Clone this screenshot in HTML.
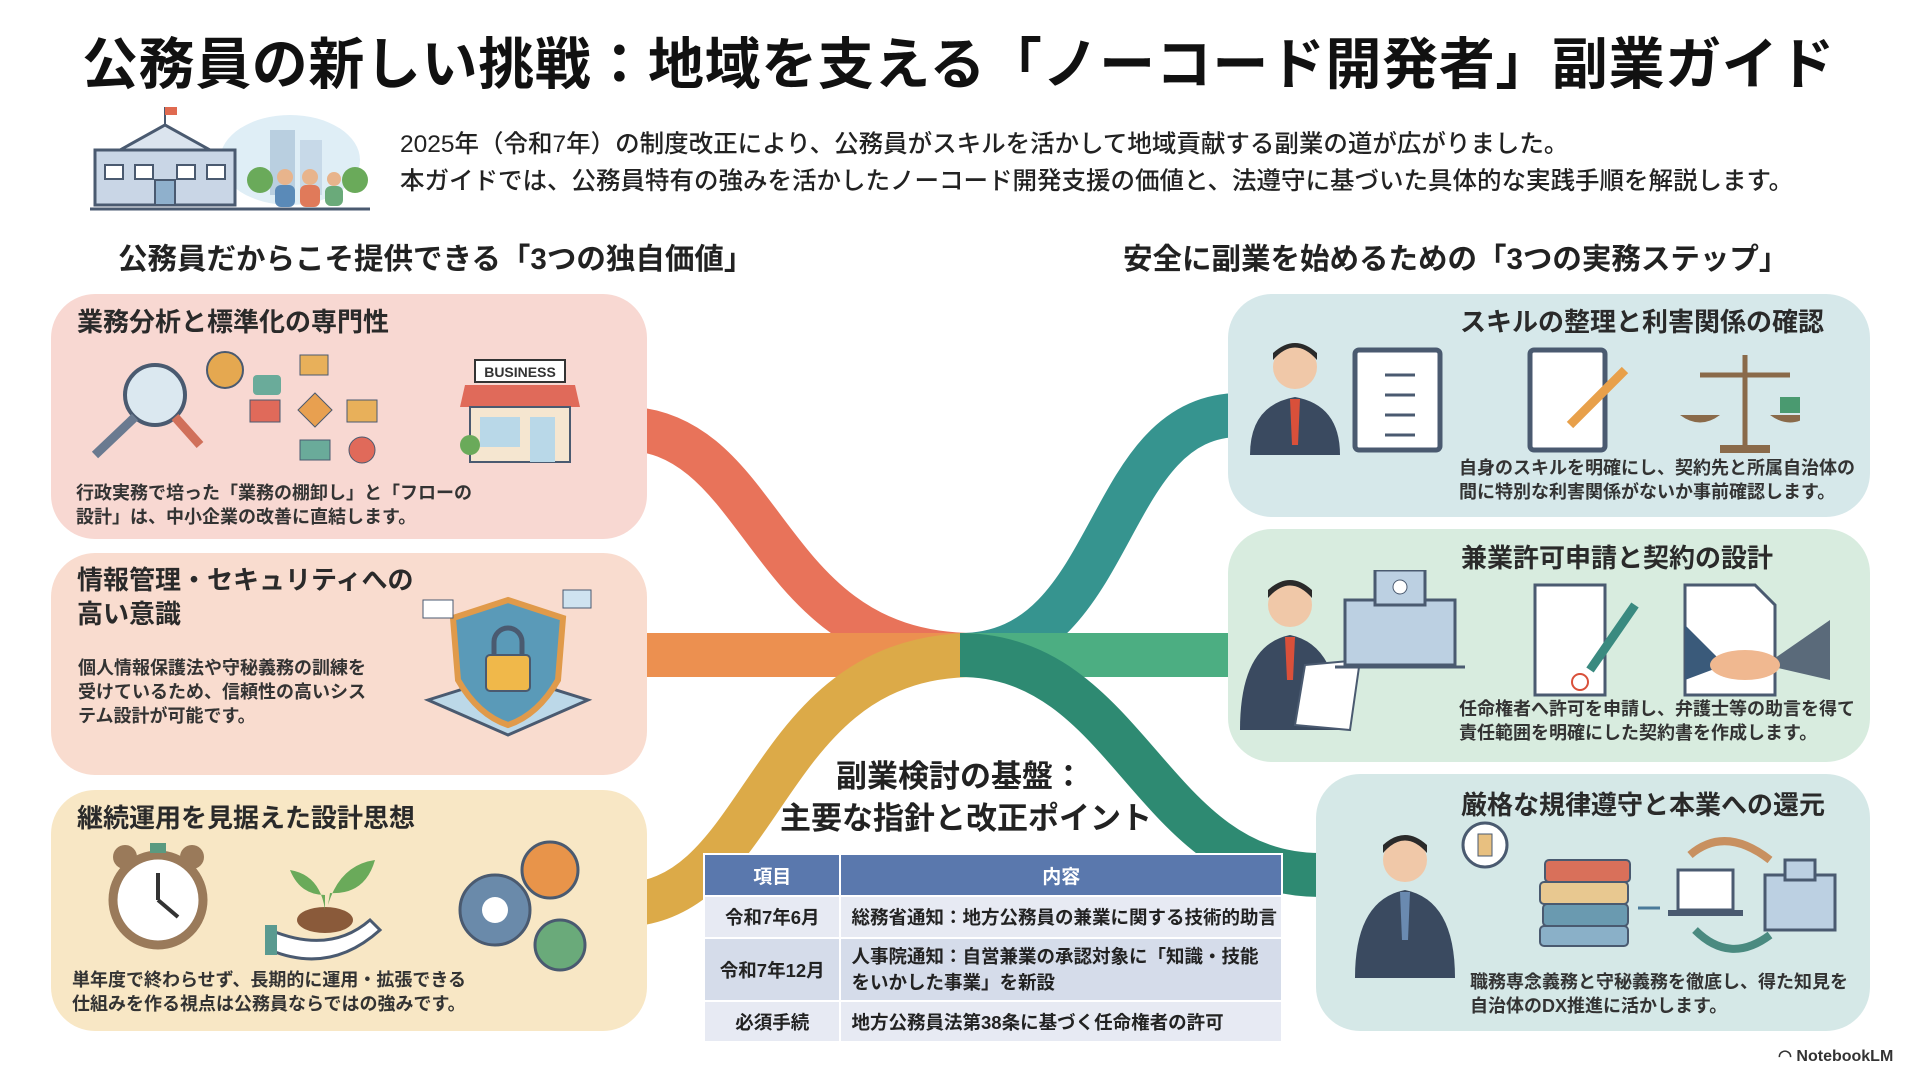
<!DOCTYPE html>
<html><head><meta charset="utf-8"><style>
*{margin:0;padding:0;box-sizing:border-box}
body{width:1920px;height:1072px;background:#fff;position:relative;overflow:hidden;font-family:"Liberation Sans","Noto Sans CJK JP",sans-serif;color:#222}
.a{position:absolute;white-space:nowrap}
.box{position:absolute;border-radius:44px}
.h{font-weight:700;font-size:26px;color:#2a2a2a}
.t{font-weight:700;font-size:18px;line-height:24px;color:#333}
table{position:absolute;left:703px;top:853px;width:580px;border-collapse:collapse;font-weight:700;font-size:18.5px;color:#222;white-space:nowrap}
td,th{border:2px solid #fff;text-align:center;padding:0 4px}
th{background:#5a78ad;color:#fff;height:42px;font-size:19px}
td.c{text-align:left;padding-left:10px}
</style></head><body>
<div class="a" style="left:82px;top:20px;font-size:56px;font-weight:700;letter-spacing:0.6px;color:#111">公務員の新しい挑戦：地域を支える「ノーコード開発者」副業ガイド</div>
<svg class="a" style="left:90px;top:105px" width="280" height="110" viewBox="0 0 280 110">
<ellipse cx="200" cy="55" rx="70" ry="45" fill="#dfeef6"/>
<rect x="180" y="25" width="25" height="65" fill="#b9cfe0"/><rect x="210" y="35" width="22" height="55" fill="#c7d9e8"/>
<rect x="5" y="45" width="140" height="55" fill="#c9d6e6" stroke="#4a5a70" stroke-width="3"/>
<polygon points="30,45 75,20 120,45" fill="#dbe4ee" stroke="#4a5a70" stroke-width="3"/>
<line x1="75" y1="20" x2="75" y2="2" stroke="#4a5a70" stroke-width="2"/><rect x="75" y="2" width="12" height="8" fill="#e06a50"/>
<rect x="15" y="60" width="18" height="14" fill="#fff" stroke="#4a5a70" stroke-width="2"/><rect x="45" y="60" width="18" height="14" fill="#fff" stroke="#4a5a70" stroke-width="2"/><rect x="87" y="60" width="18" height="14" fill="#fff" stroke="#4a5a70" stroke-width="2"/><rect x="117" y="60" width="18" height="14" fill="#fff" stroke="#4a5a70" stroke-width="2"/>
<rect x="65" y="75" width="20" height="25" fill="#8fb0cc" stroke="#4a5a70" stroke-width="2"/>
<circle cx="170" cy="75" r="13" fill="#6aaa5a"/><circle cx="265" cy="75" r="13" fill="#6aaa5a"/>
<circle cx="195" cy="72" r="8" fill="#e8b48c"/><rect x="185" y="80" width="20" height="22" rx="6" fill="#5a8ab8"/>
<circle cx="220" cy="72" r="8" fill="#e8b48c"/><rect x="210" y="80" width="20" height="22" rx="6" fill="#e07a5a"/>
<circle cx="244" cy="74" r="7" fill="#e8b48c"/><rect x="235" y="81" width="18" height="20" rx="6" fill="#6aaa7a"/>
<line x1="0" y1="104" x2="280" y2="104" stroke="#4a5a70" stroke-width="3"/>
</svg>
<div class="a" style="left:400px;top:126px;font-size:24.5px;line-height:37px;font-weight:500;color:#222">2025年（令和7年）の制度改正により、公務員がスキルを活かして地域貢献する副業の道が広がりました。<br>本ガイドでは、公務員特有の強みを活かしたノーコード開発支援の価値と、法遵守に基づいた具体的な実践手順を解説します。</div>
<div class="a" style="left:118px;top:236px;font-size:29.5px;font-weight:700">公務員だからこそ提供できる「3つの独自価値」</div>
<div class="a" style="left:1123px;top:236px;font-size:29.5px;font-weight:700">安全に副業を始めるための「3つの実務ステップ」</div>

<svg class="a" style="left:0;top:0" width="1920" height="1072">
<g fill="none" stroke-width="44">
<path d="M620 428 C770 428,760 655,975 655" stroke="#e8735a"/>
<path d="M620 655 L960 655" stroke="#ec9050"/>
<path d="M620 905 C770 905,760 655,975 655" stroke="#dcaa48"/>
<path d="M960 655 C1120 655,1100 415,1240 415" stroke="#36948f"/>
<path d="M960 655 L1240 655" stroke="#4cae82"/>
<path d="M960 655 C1130 655,1150 875,1320 875" stroke="#2e8a72"/>
</g>
</svg>

<div class="box" style="left:51px;top:294px;width:596px;height:245px;background:#f8d8d2"></div>
<div class="box" style="left:51px;top:553px;width:596px;height:222px;background:#f9dccf"></div>
<div class="box" style="left:51px;top:790px;width:596px;height:241px;background:#f8e7c5"></div>
<div class="box" style="left:1228px;top:294px;width:642px;height:223px;background:#d6e8ea"></div>
<div class="box" style="left:1228px;top:529px;width:642px;height:233px;background:#d8ecdf"></div>
<div class="box" style="left:1316px;top:774px;width:554px;height:257px;background:#d5e8e7"></div>

<div class="a h" style="left:77px;top:302px">業務分析と標準化の専門性</div>
<svg class="a" style="left:85px;top:345px" width="520" height="125">
<circle cx="70" cy="50" r="30" fill="#dbe8f0" stroke="#4a5a70" stroke-width="4"/><line x1="90" y1="72" x2="115" y2="100" stroke="#d0705a" stroke-width="9"/><line x1="50" y1="72" x2="10" y2="110" stroke="#6a7a90" stroke-width="9"/>
<circle cx="140" cy="25" r="18" fill="#e5a850" stroke="#4a5a70" stroke-width="2"/>
<rect x="168" y="30" width="28" height="20" rx="4" fill="#6aab9a"/><rect x="215" y="10" width="28" height="20" fill="#e8b05a" stroke="#4a5a70"/><rect x="165" y="55" width="30" height="22" fill="#e06a5a" stroke="#4a5a70"/><polygon points="230,48 247,65 230,82 213,65" fill="#e8a050" stroke="#4a5a70"/><rect x="262" y="55" width="30" height="22" fill="#e8b05a" stroke="#4a5a70"/><rect x="215" y="95" width="30" height="20" fill="#6aab9a" stroke="#4a5a70"/><circle cx="277" cy="105" r="13" fill="#e06a5a" stroke="#4a5a70"/>
<rect x="390" y="15" width="90" height="22" fill="#fff" stroke="#333" stroke-width="2"/><text x="435" y="32" font-size="14" font-weight="700" text-anchor="middle" fill="#333" font-family="Liberation Sans">BUSINESS</text>
<path d="M380 40 L490 40 L495 62 L375 62 Z" fill="#e06a5a"/><rect x="385" y="62" width="100" height="55" fill="#f5e6d0" stroke="#4a5a70" stroke-width="2"/><rect x="395" y="72" width="40" height="30" fill="#b9d8e8"/><rect x="445" y="72" width="25" height="45" fill="#b9d8e8"/><circle cx="385" cy="100" r="10" fill="#6aaa5a"/>
</svg>
<div class="a t" style="left:76px;top:481px">行政実務で培った「業務の棚卸し」と「フローの<br>設計」は、中小企業の改善に直結します。</div>

<div class="a h" style="left:77px;top:563px;line-height:34px">情報管理・セキュリティへの<br>高い意識</div>
<div class="a t" style="left:78px;top:656px">個人情報保護法や守秘義務の訓練を<br>受けているため、信頼性の高いシス<br>テム設計が可能です。</div>
<svg class="a" style="left:418px;top:580px" width="180" height="175">
<polygon points="10,120 90,95 170,120 90,155" fill="#bcd8e8" stroke="#4a5a70" stroke-width="3"/>
<path d="M90 20 L145 38 L140 100 Q120 135 90 145 Q60 135 40 100 L35 38 Z" fill="#5a9ab8" stroke="#e09a4a" stroke-width="6"/>
<rect x="68" y="75" width="44" height="36" rx="4" fill="#f0b84a" stroke="#4a5a70" stroke-width="2"/><path d="M76 75 V62 a14 14 0 0 1 28 0 V75" fill="none" stroke="#4a5a70" stroke-width="5"/>
<rect x="5" y="20" width="30" height="18" fill="#fff" stroke="#4a5a70"/><rect x="145" y="10" width="28" height="18" fill="#cfe3f0" stroke="#4a5a70"/>
</svg>

<div class="a h" style="left:77px;top:798px">継続運用を見据えた設計思想</div>
<svg class="a" style="left:100px;top:835px" width="500" height="145">
<circle cx="58" cy="65" r="45" fill="#fff" stroke="#9a7a5a" stroke-width="9"/><circle cx="25" cy="22" r="12" fill="#9a7a5a"/><circle cx="92" cy="22" r="12" fill="#9a7a5a"/><rect x="50" y="8" width="16" height="10" fill="#5a9a80"/>
<line x1="58" y1="65" x2="58" y2="38" stroke="#333" stroke-width="4"/><line x1="58" y1="65" x2="78" y2="82" stroke="#333" stroke-width="4"/>
<ellipse cx="225" cy="85" rx="28" ry="13" fill="#8a5a3a"/><path d="M170 95 Q230 120 270 85 L280 95 Q230 140 170 115 Z" fill="#fff" stroke="#4a5a70" stroke-width="3"/><rect x="165" y="90" width="12" height="30" fill="#5a9a90"/>
<path d="M225 75 Q220 40 190 35 Q200 60 225 60" fill="#6aaa5a"/><path d="M228 70 Q240 30 275 25 Q265 60 230 58" fill="#6aaa5a"/>
<circle cx="395" cy="75" r="35" fill="#6a8aaa" stroke="#4a5a70" stroke-width="3"/><circle cx="395" cy="75" r="13" fill="#fff"/>
<circle cx="450" cy="35" r="28" fill="#e8944a" stroke="#4a5a70" stroke-width="3"/><circle cx="460" cy="110" r="25" fill="#6aaa7a" stroke="#4a5a70" stroke-width="3"/>
</svg>
<div class="a t" style="left:72px;top:968px">単年度で終わらせず、長期的に運用・拡張できる<br>仕組みを作る視点は公務員ならではの強みです。</div>

<div class="a h" style="left:1460px;top:302px">スキルの整理と利害関係の確認</div>
<svg class="a" style="left:1240px;top:335px" width="560" height="120">
<circle cx="55" cy="32" r="22" fill="#f0c8a8"/><path d="M33 25 Q55 0 77 25 L77 18 Q55 -2 33 18Z" fill="#2a2a2a"/><path d="M10 120 Q10 70 55 62 Q100 70 100 120 Z" fill="#3a4a60"/><polygon points="50,64 60,64 58,110 52,110" fill="#d9503a"/>
<rect x="115" y="15" width="85" height="100" rx="4" fill="#fff" stroke="#4a5a70" stroke-width="5"/>
<g stroke="#4a5a70" stroke-width="3"><line x1="145" y1="40" x2="175" y2="40"/><line x1="145" y1="60" x2="175" y2="60"/><line x1="145" y1="80" x2="175" y2="80"/><line x1="145" y1="100" x2="175" y2="100"/></g>
<rect x="290" y="15" width="75" height="100" rx="4" fill="#fff" stroke="#4a5a70" stroke-width="5"/><line x1="330" y1="90" x2="385" y2="35" stroke="#e8a04a" stroke-width="9"/>
<line x1="505" y1="20" x2="505" y2="112" stroke="#8a6a4a" stroke-width="5"/><line x1="460" y1="40" x2="550" y2="40" stroke="#8a6a4a" stroke-width="5"/><rect x="480" y="110" width="50" height="8" fill="#8a6a4a"/>
<path d="M440 80 Q460 95 480 80Z" fill="#8a6a4a"/><path d="M530 80 Q550 95 570 80Z" fill="#8a6a4a"/><rect x="540" y="62" width="22" height="16" fill="#4a9a70"/>
</svg>
<div class="a t" style="left:1459px;top:456px">自身のスキルを明確にし、契約先と所属自治体の<br>間に特別な利害関係がないか事前確認します。</div>

<div class="a h" style="left:1461px;top:538px">兼業許可申請と契約の設計</div>
<svg class="a" style="left:1235px;top:570px" width="600" height="165">
<circle cx="55" cy="35" r="22" fill="#f0c8a8"/><path d="M33 28 Q55 3 77 28 L77 20 Q55 0 33 20Z" fill="#2a2a2a"/><path d="M5 160 Q5 75 55 65 Q105 75 105 160 Z" fill="#3a4a60"/><polygon points="50,67 60,67 58,110 52,110" fill="#d9503a"/><polygon points="70,95 125,90 115,160 60,155" fill="#fff" stroke="#4a5a70" stroke-width="2"/>
<rect x="110" y="30" width="110" height="65" fill="#bcd0e2" stroke="#4a5a70" stroke-width="3"/><rect x="140" y="0" width="50" height="35" fill="#bcd0e2" stroke="#4a5a70" stroke-width="3"/><circle cx="165" cy="17" r="7" fill="#fff" stroke="#4a5a70"/><line x1="100" y1="97" x2="230" y2="97" stroke="#4a5a70" stroke-width="3"/>
<path d="M300 15 L370 15 L370 125 L300 125 Z" fill="#fff" stroke="#4a5a70" stroke-width="3"/><line x1="355" y1="100" x2="400" y2="35" stroke="#3a8a80" stroke-width="9"/><circle cx="345" cy="112" r="8" fill="none" stroke="#d9503a" stroke-width="2"/>
<path d="M450 15 L520 15 L540 35 L540 125 L450 125Z" fill="#fff" stroke="#4a5a70" stroke-width="3"/>
<path d="M450 55 L490 95 L450 110Z" fill="#3a5a7a"/><path d="M595 50 L530 95 L595 110Z" fill="#5a6a7a"/><ellipse cx="510" cy="95" rx="35" ry="15" fill="#f0b890"/>
</svg>
<div class="a t" style="left:1459px;top:697px">任命権者へ許可を申請し、弁護士等の助言を得て<br>責任範囲を明確にした契約書を作成します。</div>

<div class="a h" style="left:1461px;top:785px">厳格な規律遵守と本業への還元</div>
<svg class="a" style="left:1330px;top:820px" width="520" height="160">
<circle cx="75" cy="40" r="22" fill="#f0c8a8"/><path d="M53 33 Q75 8 97 33 L97 25 Q75 5 53 25Z" fill="#2a2a2a"/><path d="M25 158 Q25 80 75 70 Q125 80 125 158 Z" fill="#3a4a60"/><polygon points="70,72 80,72 78,120 72,120" fill="#6a8ab0"/>
<circle cx="155" cy="25" r="22" fill="#fff" stroke="#4a5a70" stroke-width="3"/><rect x="148" y="14" width="14" height="22" fill="#e8c080" stroke="#4a5a70"/>
<rect x="215" y="40" width="85" height="22" rx="4" fill="#d9705a" stroke="#4a5a70" stroke-width="2"/><rect x="210" y="62" width="88" height="22" rx="4" fill="#e8c890" stroke="#4a5a70" stroke-width="2"/><rect x="213" y="84" width="85" height="22" rx="4" fill="#6a9ab0" stroke="#4a5a70" stroke-width="2"/><rect x="210" y="106" width="88" height="20" rx="4" fill="#8ab0c8" stroke="#4a5a70" stroke-width="2"/>
<line x1="308" y1="88" x2="330" y2="88" stroke="#4a7a9a" stroke-width="3"/>
<rect x="348" y="50" width="55" height="40" fill="#fff" stroke="#4a5a70" stroke-width="3"/><rect x="338" y="90" width="75" height="6" fill="#4a5a70"/>
<path d="M360 35 Q395 5 440 40" fill="none" stroke="#c89060" stroke-width="8"/><path d="M440 115 Q400 145 365 110" fill="none" stroke="#4a8a80" stroke-width="8"/>
<rect x="435" y="55" width="70" height="55" fill="#bcd0e2" stroke="#4a5a70" stroke-width="3"/><rect x="455" y="40" width="30" height="20" fill="#bcd0e2" stroke="#4a5a70" stroke-width="3"/>
</svg>
<div class="a t" style="left:1470px;top:970px">職務専念義務と守秘義務を徹底し、得た知見を<br>自治体のDX推進に活かします。</div>

<div class="a" style="left:780px;top:756px;width:360px;text-align:center;font-size:31px;font-weight:700;line-height:42px">副業検討の基盤：<br>主要な指針と改正ポイント</div>
<table>
<tr><th style="width:140px">項目</th><th>内容</th></tr>
<tr style="background:#e7eaf3;height:42px"><td>令和7年6月</td><td class="c">総務省通知：地方公務員の兼業に関する技術的助言</td></tr>
<tr style="background:#d5dcea;height:63px"><td>令和7年12月</td><td class="c" style="line-height:26px">人事院通知：自営兼業の承認対象に「知識・技能<br>をいかした事業」を新設</td></tr>
<tr style="background:#e7eaf3;height:41px"><td>必須手続</td><td class="c">地方公務員法第38条に基づく任命権者の許可</td></tr>
</table>
<div class="a" style="left:1778px;top:1046px;font-size:16px;font-weight:700;color:#333">◠ NotebookLM</div>
</body></html>
